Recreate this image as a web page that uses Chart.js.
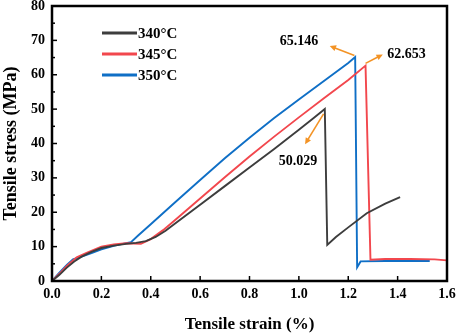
<!DOCTYPE html>
<html>
<head>
<meta charset="utf-8">
<script src="https://cdn.jsdelivr.net/npm/chart.js@4"></script>
<style>
  html, body { margin: 0; padding: 0; background: #fff; }
  #wrap { width: 457px; height: 335px; }
</style>
</head>
<body>
<div id="wrap"><canvas id="tensile"></canvas></div>
<script>
var seriesLabels = ['340°C', '345°C', '350°C'];

var strain340 = [0, 0.03, 0.06, 0.09, 0.12, 0.16, 0.2, 0.25, 0.3, 0.34, 0.38, 0.42, 0.46, 0.5, 0.6, 0.7, 0.8, 0.9, 1.0, 1.06, 1.105, 1.115, 1.15, 1.2, 1.275, 1.35, 1.41];
var stress340 = [0, 1.8, 3.9, 5.7, 7.1, 8.5, 9.6, 10.3, 10.8, 11.1, 11.6, 12.8, 14.6, 16.8, 22.2, 27.6, 33.0, 38.4, 44.0, 47.4, 50.03, 10.5, 12.8, 15.6, 19.7, 22.5, 24.4];

var strain345 = [0, 0.03, 0.06, 0.1, 0.14, 0.2, 0.25, 0.3, 0.33, 0.36, 0.4, 0.45, 0.5, 0.6, 0.7, 0.8, 0.9, 1.0, 1.1, 1.2, 1.27, 1.29, 1.35, 1.45, 1.55, 1.6];
var stress345 = [0, 2.1, 4.4, 6.9, 8.2, 10.0, 10.6, 11.0, 10.9, 10.8, 12.2, 14.8, 17.8, 24.0, 30.2, 36.2, 42.0, 47.6, 53.1, 58.5, 62.65, 6.2, 6.4, 6.4, 6.3, 6.0];

var strain350 = [0, 0.03, 0.06, 0.085, 0.12, 0.16, 0.2, 0.25, 0.3, 0.32, 0.35, 0.4, 0.5, 0.6, 0.7, 0.8, 0.9, 1.0, 1.1, 1.2, 1.228, 1.236, 1.25, 1.35, 1.45, 1.53];
var stress350 = [0, 2.4, 4.7, 6.3, 7.1, 8.1, 9.2, 10.2, 11.0, 11.3, 13.3, 16.5, 23.0, 29.4, 35.7, 41.7, 47.4, 52.8, 58.1, 63.4, 65.15, 4.0, 5.7, 5.8, 5.8, 5.8];

var peakLabels = ['50.029', '62.653', '65.146'];
var xTicks = [0, 0.2, 0.4, 0.6, 0.8, 1.0, 1.2, 1.4, 1.6];
var yTicks = [0, 10, 20, 30, 40, 50, 60, 70, 80];

var FONT = '"Liberation Serif", "Times New Roman", serif';
var colors = ['#3d3d3d', '#f2474d', '#0f6fc6'];
var ORANGE = '#f39325';

function toPoints(xs, ys) {
  return xs.map(function (x, i) { return { x: x, y: ys[i] }; });
}

function arrow(ctx, x1, y1, x2, y2) {
  var ang = Math.atan2(y2 - y1, x2 - x1), h = 7;
  ctx.beginPath();
  ctx.moveTo(x1, y1);
  ctx.lineTo(x2 - Math.cos(ang) * h * 0.8, y2 - Math.sin(ang) * h * 0.8);
  ctx.stroke();
  ctx.beginPath();
  ctx.moveTo(x2, y2);
  ctx.lineTo(x2 - h * Math.cos(ang - 0.45), y2 - h * Math.sin(ang - 0.45));
  ctx.lineTo(x2 - h * Math.cos(ang + 0.45), y2 - h * Math.sin(ang + 0.45));
  ctx.closePath();
  ctx.fill();
}

// frame, inward ticks, legend and peak notes
var extras = {
  id: 'extras',
  afterDatasetsDraw: function (chart) {
    var ctx = chart.ctx, a = chart.chartArea;
    var xs = chart.scales.x, ys = chart.scales.y;
    ctx.save();

    ctx.strokeStyle = '#000';
    ctx.lineWidth = 1.5;
    xTicks.forEach(function (v) {
      var px = xs.getPixelForValue(v);
      ctx.beginPath(); ctx.moveTo(px, a.bottom); ctx.lineTo(px, a.bottom - 5); ctx.stroke();
    });
    for (var v = 0; v <= 80; v += 5) {
      var py = ys.getPixelForValue(v), len = v % 10 === 0 ? 5 : 3;
      ctx.beginPath(); ctx.moveTo(a.left, py); ctx.lineTo(a.left + len, py); ctx.stroke();
    }
    ctx.lineWidth = 2.5;
    ctx.strokeRect(a.left, a.top, a.right - a.left, a.bottom - a.top);

    // legend
    ctx.font = 'bold 15px ' + FONT;
    ctx.textBaseline = 'middle';
    ctx.textAlign = 'left';
    chart.data.datasets.forEach(function (ds, i) {
      var y = a.top + 27 + i * 21;
      ctx.strokeStyle = ds.borderColor;
      ctx.lineWidth = 3;
      ctx.beginPath(); ctx.moveTo(a.left + 50, y); ctx.lineTo(a.left + 85, y); ctx.stroke();
      ctx.fillStyle = '#000';
      ctx.fillText(ds.label, a.left + 86, y + 1);
    });

    // peak notes: [tail, head, text] in data units
    var notes = [
      [[1.10, 48.6], [1.025, 39.8], [0.996, 34.7]],
      [[1.27, 63.3], [1.34, 65.9], [1.436, 65.9]],
      [[1.225, 65.6], [1.125, 68.4], [1.0, 69.7]]
    ];
    ctx.strokeStyle = ORANGE;
    ctx.fillStyle = ORANGE;
    ctx.lineWidth = 1.6;
    notes.forEach(function (n) {
      arrow(ctx, xs.getPixelForValue(n[0][0]), ys.getPixelForValue(n[0][1]),
                 xs.getPixelForValue(n[1][0]), ys.getPixelForValue(n[1][1]));
    });
    ctx.fillStyle = '#000';
    ctx.font = 'bold 14px ' + FONT;
    ctx.textAlign = 'center';
    notes.forEach(function (n, i) {
      ctx.fillText(peakLabels[i], xs.getPixelForValue(n[2][0]), ys.getPixelForValue(n[2][1]));
    });
    ctx.restore();
  }
};

var ctx = document.getElementById('tensile');
new Chart(ctx, {
  type: 'scatter',
  data: {
    datasets: [
      { label: seriesLabels[0], data: toPoints(strain340, stress340), borderColor: colors[0] },
      { label: seriesLabels[1], data: toPoints(strain345, stress345), borderColor: colors[1] },
      { label: seriesLabels[2], data: toPoints(strain350, stress350), borderColor: colors[2] }
    ]
  },
  options: {
    responsive: true,
    maintainAspectRatio: false,
    animation: false,
    showLine: true,
    elements: {
      point: { radius: 0 },
      line: { borderWidth: 1.9, tension: 0, fill: false }
    },
    layout: { padding: { left: 0, right: 10, top: 6, bottom: 0 } },
    plugins: {
      legend: { display: false },
      tooltip: { enabled: false }
    },
    scales: {
      x: {
        type: 'linear',
        min: 0,
        max: 1.6,
        afterFit: function (s) { s.height = 54; s.paddingLeft = 0; s.paddingRight = 0; },
        afterBuildTicks: function (s) { s.ticks = xTicks.map(function (v) { return { value: v }; }); },
        grid: { display: false, drawTicks: false },
        border: { display: false },
        ticks: {
          color: '#000',
          padding: 5,
          font: { family: FONT, size: 14, weight: 'bold' },
          callback: function (v) { return Number(v).toFixed(1); }
        },
        title: {
          display: true,
          text: 'Tensile strain (%)',
          color: '#000',
          padding: { top: 0, bottom: 0 },
          font: { family: FONT, size: 17, weight: 'bold' }
        }
      },
      y: {
        min: 0,
        max: 80,
        afterFit: function (s) { s.width = 52; s.paddingTop = 0; s.paddingBottom = 0; },
        afterBuildTicks: function (s) { s.ticks = yTicks.map(function (v) { return { value: v }; }); },
        grid: { display: false, drawTicks: false },
        border: { display: false },
        ticks: {
          color: '#000',
          padding: 7,
          font: { family: FONT, size: 14, weight: 'bold' }
        },
        title: {
          display: true,
          text: 'Tensile stress (MPa)',
          color: '#000',
          padding: { top: 1, bottom: 0 },
          font: { family: FONT, size: 18, weight: 'bold' }
        }
      }
    }
  },
  plugins: [extras]
});
</script>
</body>
</html>
